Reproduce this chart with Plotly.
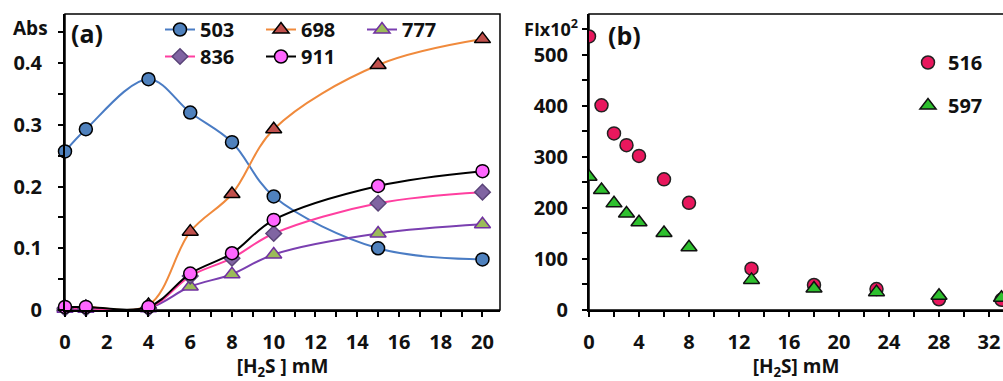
import plotly.graph_objects as go

# ---- panel (a): absorbance vs [H2S] ----
conc_a = [0, 1, 4, 6, 8, 10, 15, 20]
abs_503 = [0.257, 0.293, 0.374, 0.320, 0.272, 0.184, 0.100, 0.082]
abs_698 = [0.005, 0.005, 0.008, 0.127, 0.188, 0.293, 0.397, 0.439]
abs_777 = [0.002, 0.002, 0.003, 0.038, 0.058, 0.090, 0.124, 0.139]
abs_836 = [0.003, 0.003, 0.003, 0.055, 0.084, 0.124, 0.173, 0.191]
abs_911 = [0.005, 0.005, 0.005, 0.059, 0.092, 0.146, 0.201, 0.225]

# ---- panel (b): fluorescence vs [H2S] ----
conc_b = [0, 1, 2, 3, 4, 6, 8, 13, 18, 23, 28, 33]
fl_516 = [536, 401, 346, 323, 302, 256, 210, 81, 49, 41, 21, 20]
fl_597 = [261, 235, 209, 189, 172, 151, 123, 59, 42, 35, 28, 24]

FONT = "Open Sans"
INK = "#111111"

fig = go.Figure()

series_a = [
    ("503", abs_503, "circle", "#4F81BD", "#000000", "#4A7CC4", "legend", 13),
    ("698", abs_698, "triangle-up", "#C0504D", "#000000", "#F08A3C", "legend", 14),
    ("777", abs_777, "triangle-up", "#9BBB59", "#7030A0", "#7A3FB0", "legend", 14),
    ("836", abs_836, "diamond", "#8064A2", "#5A4478", "#FF3FA0", "legend2", 12),
    ("911", abs_911, "circle", "#FF66FF", "#000000", "#000000", "legend2", 13),
]
# draw back-to-front so the magenta circles sit on top
for name, ys, sym, fill, edge, lc, lg, sz in series_a:
    fig.add_trace(go.Scatter(
        x=conc_a, y=ys, name=name, mode="lines+markers",
        line=dict(color=lc, width=2, shape="spline", smoothing=1.0),
        marker=dict(symbol=sym, size=sz, color=fill,
                    line=dict(color=edge, width=1.5)),
        xaxis="x", yaxis="y", legend=lg, cliponaxis=False,
    ))

fig.add_trace(go.Scatter(
    x=conc_b, y=fl_516, name="516", mode="markers",
    marker=dict(symbol="circle", size=13, color="#E8175D",
                line=dict(color="#222222", width=1.5)),
    xaxis="x2", yaxis="y2", legend="legend3", legendgroup="g516",
))
fig.add_trace(go.Scatter(
    x=conc_b, y=fl_597, name="597", mode="markers",
    marker=dict(symbol="triangle-up", size=14, color="#2EC02E",
                line=dict(color="#111111", width=1.5)),
    xaxis="x2", yaxis="y2", legend="legend3", legendgroup="g597",
))

ydom = [1 - 310 / 381, 1 - 14 / 381]
xdom_a = [65 / 1003, 500 / 1003]
xdom_b = [589 / 1003, 1.0]

tickfont = dict(family=FONT, size=20, color=INK, weight="bold")
axis_common = dict(
    showgrid=False, zeroline=False, showline=True, linecolor="#000000",
    linewidth=2, ticks="outside", ticklen=5, tickwidth=1.5, tickcolor="#000000",
    tickfont=tickfont, automargin=False,
)
minor_common = dict(ticks="outside", ticklen=5, tickcolor="#000000", tickwidth=1.5)
title_font = dict(family=FONT, size=19, color=INK, weight="bold")
legend_font = dict(family=FONT, size=20, color=INK, weight="bold")

fig.update_layout(
    width=1003, height=381,
    margin=dict(l=0, r=0, t=0, b=0),
    paper_bgcolor="white", plot_bgcolor="white",
    font=dict(family=FONT, color=INK),
    xaxis=dict(domain=xdom_a, range=[0, 20.84], anchor="y",
               tickmode="linear", tick0=0, dtick=2, ticklabelstandoff=8,
               minor=dict(dtick=1, **minor_common),
               title=dict(text="[H<sub>2</sub>S ] mM", standoff=15, font=title_font),
               **axis_common),
    yaxis=dict(domain=ydom, range=[0, 0.4797], anchor="x",
               tickmode="linear", tick0=0, dtick=0.1, ticklabelstandoff=12,
               minor=dict(dtick=0.05, **minor_common),
               **axis_common),
    xaxis2=dict(domain=xdom_b, range=[0, 33.12], anchor="y2",
                tickmode="linear", tick0=0, dtick=4, ticklabelstandoff=8,
                minor=dict(dtick=2, **minor_common),
                title=dict(text="[H<sub>2</sub>S] mM", standoff=15, font=title_font),
                **axis_common),
    yaxis2=dict(domain=ydom, range=[0, 580], anchor="x2",
                tickmode="linear", tick0=0, dtick=100, ticklabelstandoff=10,
                minor=dict(dtick=50, **minor_common),
                **axis_common),
    legend=dict(orientation="h", x=160 / 1003, y=1 - 10 / 381, xanchor="left", yanchor="top",
                entrywidth=56, entrywidthmode="pixels", bgcolor="rgba(0,0,0,0)",
                font=legend_font),
    legend2=dict(orientation="h", x=160 / 1003, y=1 - 37 / 381, xanchor="left", yanchor="top",
                 entrywidth=56, entrywidthmode="pixels", bgcolor="rgba(0,0,0,0)",
                 font=legend_font),
    legend3=dict(orientation="v", x=908 / 1003, y=1 - 43 / 381, xanchor="left", yanchor="top",
                 tracegroupgap=14, bgcolor="rgba(0,0,0,0)", font=legend_font),
    showlegend=True,
)

# panel frames (top/right borders)
for xd in (xdom_a, [xdom_b[0], 1.02]):
    fig.add_shape(type="rect", xref="paper", yref="paper",
                  x0=xd[0], x1=xd[1], y0=ydom[0], y1=ydom[1],
                  line=dict(color="#000000", width=1.5), layer="below")

def label(text, xpx, ypx, size):
    fig.add_annotation(text=text, xref="paper", yref="paper",
                       x=xpx / 1003, y=1 - ypx / 381, showarrow=False,
                       xanchor="center", yanchor="middle",
                       font=dict(family=FONT, size=size, color=INK, weight="bold"))

label("Abs", 30, 28, 19)
label("(a)", 87, 33, 25)
label("FIx10<sup>2</sup>", 551, 28, 18)
label("(b)", 624, 35, 25)

fig.write_html("out.html")
